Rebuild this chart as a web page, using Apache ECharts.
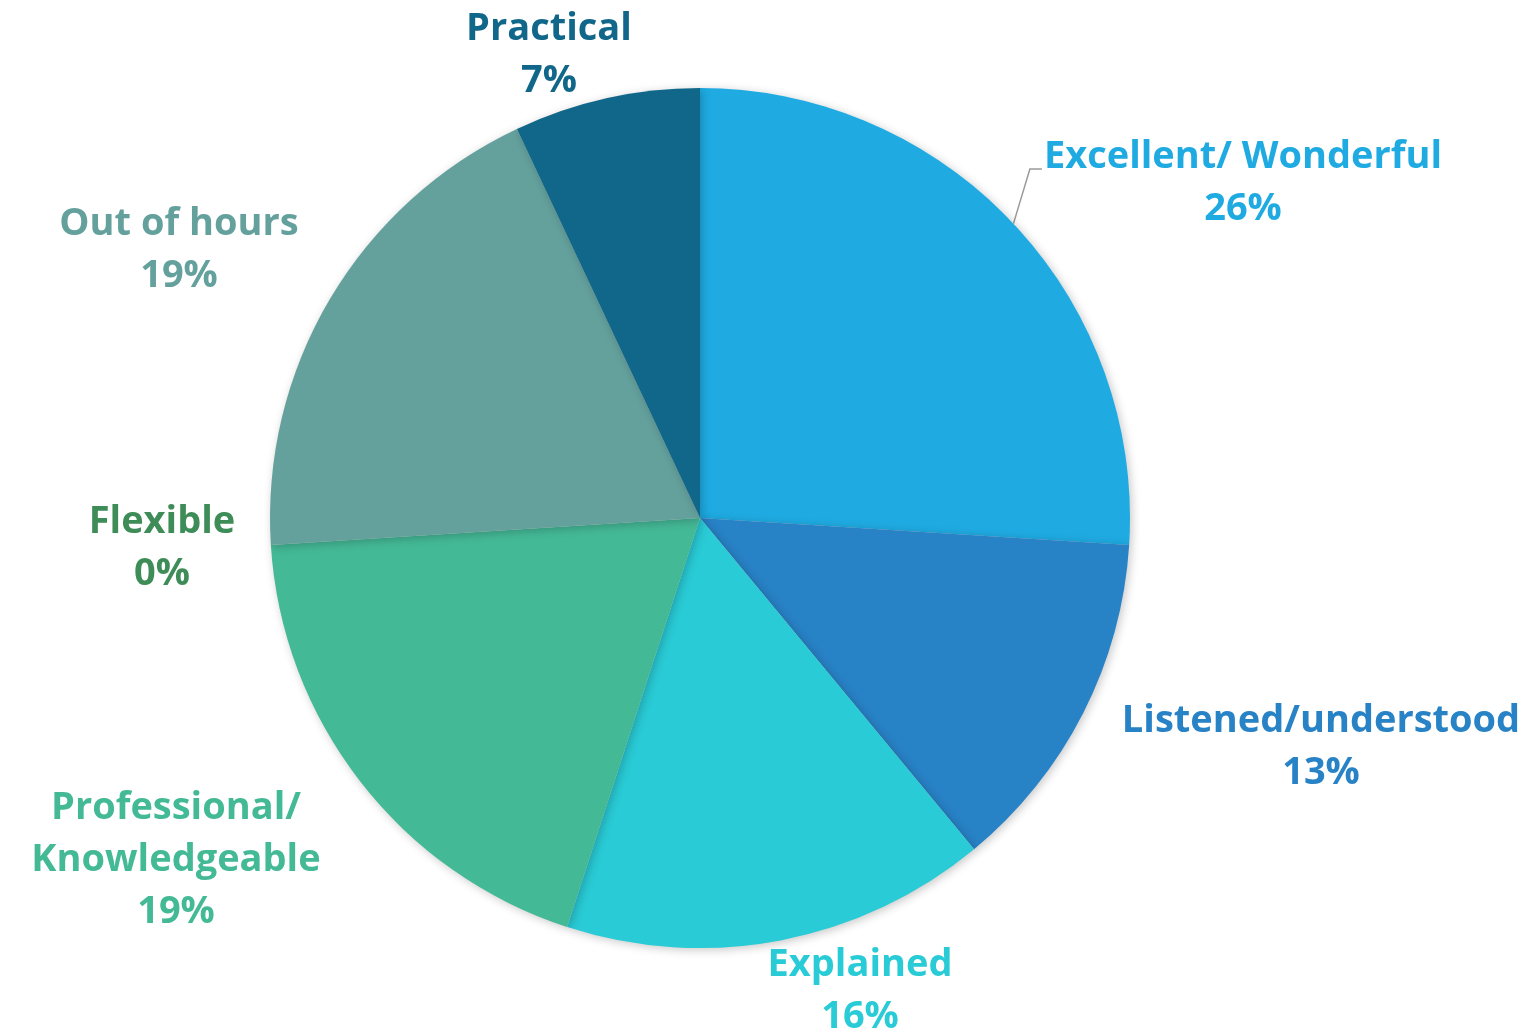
<!DOCTYPE html>
<html>
<head>
<meta charset="utf-8">
<style>
  html, body { margin: 0; padding: 0; background: #ffffff; }
  #chart { width: 1530px; height: 1034px; }
</style>
<script src="https://cdn.jsdelivr.net/npm/echarts@6/dist/echarts.min.js"></script>
</head>
<body>
<div id="chart"></div>
<script>
// Feedback themes, share of comments (%)
const categories = [
  'Excellent/ Wonderful',
  'Listened/understood',
  'Explained',
  'Professional/\nKnowledgeable',
  'Flexible',
  'Out of hours',
  'Practical'
];
const shares = [26, 13, 16, 19, 0, 19, 7];

// Slice and label colours
const sliceColors = ['#1FABE2', '#2882C6', '#29CBD6', '#44B996', '#3E8C57', '#64A19D', '#116789'];
const labelColors = ['#1FABE2', '#2882C6', '#29CBD6', '#44B996', '#3E8C57', '#64A19D', '#116789'];

// Where each label block is centred
const labelSpots = [
  [1243, 183], [1321, 747], [860, 991], [176, 860], [162, 548], [179, 250], [549, 55]
];

const chart = echarts.init(document.getElementById('chart'), null, { renderer: 'canvas' });

chart.setOption({
  backgroundColor: '#ffffff',
  animation: false,
  series: [{
    type: 'pie',
    center: [700, 518],
    radius: 430,
    startAngle: 90,
    clockwise: true,
    avoidLabelOverlap: false,
    stillShowZeroSum: true,
    minShowLabelAngle: 0,
    itemStyle: {
      borderWidth: 0,
      shadowBlur: 10,
      shadowColor: 'rgba(0,0,0,0.22)',
      shadowOffsetX: 2,
      shadowOffsetY: 2
    },
    label: {
      show: true,
      position: 'outside',
      fontFamily: 'Open Sans',
      fontWeight: 'bold',
      fontSize: 38,
      lineHeight: 52,
      align: 'center',
      formatter: p => p.name + '\n' + p.value + '%'
    },
    labelLine: { show: false },
    labelLayout: params => {
      const i = params.dataIndex;
      const spot = labelSpots[i];
      const out = { x: spot[0], y: spot[1], align: 'center', verticalAlign: 'middle' };
      if (i === 0 && params.labelLinePoints) {
        // elbow connector: from the slice edge up to the left of the first text line
        const left = spot[0] - params.labelRect.width / 2;
        const elbowY = spot[1] - 14;
        out.labelLinePoints = [
          params.labelLinePoints[0],
          [left - 14, elbowY],
          [left - 2, elbowY]
        ];
      }
      return out;
    },
    data: categories.map((name, i) => ({
      name: name,
      value: shares[i],
      itemStyle: { color: sliceColors[i] },
      label: { color: labelColors[i] },
      labelLine: i === 0 ? {
        show: true,
        length: 10,
        length2: 10,
        lineStyle: { color: '#9a9a9a', width: 1.5 }
      } : { show: false }
    }))
  }]
});
</script>
</body>
</html>
